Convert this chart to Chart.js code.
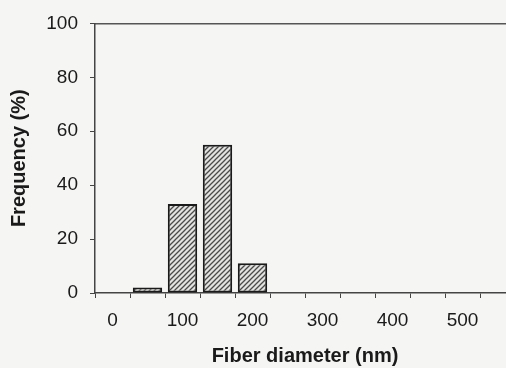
<!DOCTYPE html>
<html>
<head>
<meta charset="utf-8">
<script src="https://cdn.jsdelivr.net/npm/chart.js@4"></script>
<style>
  html, body { margin: 0; padding: 0; background: #f5f5f3; overflow: hidden; }
  #wrap { width: 530px; height: 368px; }
</style>
</head>
<body>
<div id="wrap"><canvas id="histChart" width="530" height="368"></canvas></div>
<script>
// diameter bins (nm) and share of fibers in each bin (%)
const diameters = [0, 50, 100, 150, 200, 250, 300, 350, 400, 450, 500, 550];
const frequency = [0, 2, 33, 55, 11, 0, 0, 0, 0, 0, 0, 0];
const yTicks = [0, 20, 40, 60, 80, 100];

// diagonal hatch fill for the bars
function hatch() {
  const c = document.createElement('canvas');
  c.width = 5; c.height = 5;
  const g = c.getContext('2d');
  g.fillStyle = '#e2e2e0';
  g.fillRect(0, 0, 5, 5);
  g.strokeStyle = '#4a4a4a';
  g.lineWidth = 1.3;
  g.beginPath();
  g.moveTo(-1, 6); g.lineTo(6, -1);
  g.moveTo(-1, 1); g.lineTo(1, -1);
  g.moveTo(4, 6); g.lineTo(6, 4);
  g.stroke();
  return g.createPattern(c, 'repeat');
}

const ink = '#1a1a1a';
const tickFont = { family: 'Liberation Sans, Arial, sans-serif', size: 19 };
const titleFont = { family: 'Liberation Sans, Arial, sans-serif', size: 20, weight: 'bold' };

const ctx = document.getElementById('histChart').getContext('2d');
new Chart(ctx, {
  type: 'bar',
  data: {
    labels: diameters,
    datasets: [{
      data: frequency,
      backgroundColor: hatch(),
      borderColor: ink,
      borderWidth: c => (c.raw > 0 ? 2 : 0),
      borderSkipped: false,
      barPercentage: 0.84,
      categoryPercentage: 1
    }]
  },
  options: {
    responsive: false,
    animation: false,
    layout: { padding: { top: 23, right: 15, bottom: 0, left: 0 } },
    plugins: { legend: { display: false }, tooltip: { enabled: false } },
    scales: {
      x: {
        offset: true,
        afterFit: s => { s.height = 75; },
        grid: { offset: true, drawOnChartArea: false, drawTicks: true, tickLength: 5, color: '#444' },
        border: { display: true, color: '#444', width: 1.5 },
        ticks: {
          color: ink,
          font: tickFont,
          padding: 11,
          autoSkip: false,
          maxRotation: 0,
          callback: function (v) {
            const d = diameters[v];
            return d % 100 === 0 ? String(d) : '';
          }
        },
        title: { display: true, text: 'Fiber diameter (nm)', color: ink, font: titleFont, padding: 0 }
      },
      xTop: {
        position: 'top',
        afterFit: s => { s.height = 0; },
        grid: { display: false, drawTicks: false },
        border: { display: true, color: '#555', width: 1.5 },
        ticks: { display: false }
      },
      y: {
        min: 0,
        max: 100,
        afterFit: s => { s.width = 95; },
        afterBuildTicks: s => { s.ticks = yTicks.map(v => ({ value: v })); },
        grid: { drawOnChartArea: false, drawTicks: true, tickLength: 5, color: '#444' },
        border: { display: true, color: '#444', width: 1.5 },
        ticks: { color: ink, font: tickFont, padding: 12 },
        title: { display: true, text: 'Frequency (%)', color: ink, font: titleFont, padding: { top: 7, bottom: 0 } }
      }
    }
  }
});
</script>
</body>
</html>
